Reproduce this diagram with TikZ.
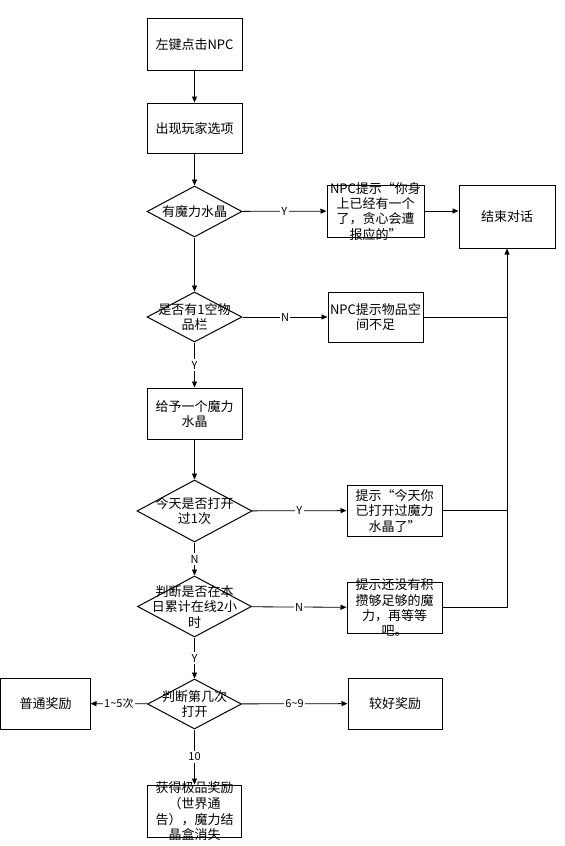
\documentclass[tikz,border=0pt]{standalone}
\usepackage{fontspec}
\setmainfont{Noto Sans CJK SC}
\usetikzlibrary{arrows.meta,shapes.geometric}
\newcommand\tx[1]{\makebox[0pt]{\smash{\raisebox{-5bp}{\begin{tabular}{@{}c@{}}#1\end{tabular}}}}}
\begin{document}
\begin{tikzpicture}[x=1bp,y=-1bp,
  box/.style={draw, line width=1bp, rectangle, inner sep=0pt, minimum width=95bp, minimum height=51bp, font=\fontsize{13bp}{15bp}\selectfont},
  dia/.style={draw, line width=1bp, diamond, inner sep=0pt, font=\fontsize{13bp}{15bp}\selectfont},
  con/.style={line width=0.8bp, -{Triangle[length=6bp,width=5bp]}},
  ln/.style={line width=0.8bp},
  lbl/.style={fill=white, inner sep=1.5bp, font=\fontsize{11bp}{13bp}\selectfont}]
\useasboundingbox (0,0) rectangle (565,846);
\node[box] (b1) at (194.5,44.5) {\tx{左键点击NPC}};
\node[box, minimum height=50bp] (b2) at (194.5,128) {\tx{出现玩家选项}};
\node[dia, minimum width=95bp, minimum height=51bp] (d1) at (194.5,211.5) {\tx{有魔力水晶}};
\node[box, minimum width=97bp, minimum height=52bp] (n1) at (375.5,211) {\tx{NPC提示“你身\\上已经有一个\\了，贪心会遭\\报应的”}};
\node[box, minimum width=96bp, minimum height=63bp] (end) at (507,216.5) {\tx{结束对话}};
\node[dia, minimum width=95bp, minimum height=50bp] (d2) at (194.5,317) {\tx{是否有1空物\\品栏}};
\node[box, minimum height=50bp] (n2) at (375.5,317) {\tx{NPC提示物品空\\间不足}};
\node[box] (give) at (194.5,413.5) {\tx{给予一个魔力\\水晶}};
\node[dia, minimum width=115bp, minimum height=62bp] (d3) at (194.5,511) {\tx{今天是否打开\\过1次}};
\node[box] (t1) at (394.5,510.5) {\tx{提示“今天你\\已打开过魔力\\水晶了”}};
\node[dia, minimum width=114bp, minimum height=61bp] (d4) at (194.5,606.5) {\tx{判断是否在本\\日累计在线2小\\时}};
\node[box] (t2) at (394.5,607.5) {\tx{提示还没有积\\攒够足够的魔\\力，再等等\\吧。}};
\node[dia, minimum width=94bp, minimum height=50bp] (d5) at (194.5,704) {\tx{判断第几次\\打开}};
\node[box, minimum width=89bp] (nr) at (45.5,703.5) {\tx{普通奖励}};
\node[box, minimum width=94bp] (bt) at (395,703.5) {\tx{较好奖励}};
\node[box, minimum width=94bp, minimum height=52bp] (bs) at (194.5,811) {\tx{获得极品奖励\\（世界通\\告），魔力结\\晶盒消失}};
% connectors
\draw[con] (b1) -- (b2);
\draw[con] (b2) -- (d1);
\draw[con] (d1) -- node[lbl] {Y} (n1);
\draw[con] (n1.east) -- (n1.east -| end.west);
\draw[con] (d1) -- (d2);
\draw[con] (d2) -- node[lbl] {N} (n2);
\draw[ln] (n2.east) -- (n2.east -| end.south);
\draw[ln] (t1.east) -- (t1.east -| end.south);
\draw[con] (t2.east) -| (end.south);
\draw[con] (d2) -- node[lbl] {Y} (give);
\draw[con] (give) -- (d3);
\draw[con] (d3) -- node[lbl] {Y} (t1);
\draw[con] (d3) -- node[lbl] {N} (d4);
\draw[con] (d4) -- node[lbl] {N} (t2);
\draw[con] (d4) -- node[lbl] {Y} (d5);
\draw[con] (d5) -- node[lbl] {1\textasciitilde5次} (nr);
\draw[con] (d5) -- node[lbl] {6\textasciitilde9} (bt);
\draw[con] (d5) -- node[lbl] {10} (bs);
\end{tikzpicture}
\end{document}
